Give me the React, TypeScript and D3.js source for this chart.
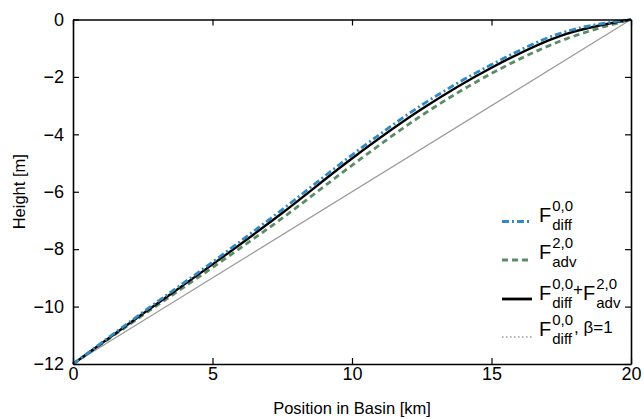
import React, { useEffect, useRef } from "react";
import * as d3 from "d3";

// positions along the basin [km]
const positions = [0, 2.5, 5, 7.5, 10, 12.5, 15, 17.5, 20];
// heights [m]
const diffHeights = [-12, -10.2, -8.45, -6.62, -4.72, -2.98, -1.57, -0.47, 0];
const advHeights = [-12, -10.3, -8.64, -6.92, -5.08, -3.34, -1.88, -0.74, 0];
const bothHeights = [-12, -10.25, -8.53, -6.74, -4.84, -3.12, -1.68, -0.56, 0];
const linearPos = [0, 20];
const linearHeights = [-12, 0];

const xTicks = [0, 5, 10, 15, 20];
const yTicks = [-12, -10, -8, -6, -4, -2, 0];

const FONT = "'Liberation Sans', Arial, Helvetica, sans-serif";

export default function App() {
  const svgRef = useRef<SVGSVGElement>(null);
  const width = 644;
  const height = 419;
  const left = 73, right = 631, top = 19.5, bottom = 364;

  useEffect(() => {
    const svg = d3.select(svgRef.current);
    svg.selectAll("*").remove();

    const x = d3.scaleLinear().domain([0, 20]).range([left, right]);
    const y = d3.scaleLinear().domain([-12, 0]).range([bottom, top]);

    const line = d3.line<[number, number]>()
      .x((d) => x(d[0]))
      .y((d) => y(d[1]))
      .curve(d3.curveMonotoneX);

    const zip = (xs: number[], ys: number[]) => xs.map((v, i) => [v, ys[i]] as [number, number]);

    // curves
    svg.append("path").datum(zip(linearPos, linearHeights))
      .attr("d", line).attr("fill", "none").attr("stroke", "#9a9a9a").attr("stroke-width", 1.2);
    svg.append("path").datum(zip(positions, advHeights))
      .attr("d", line).attr("fill", "none").attr("stroke", "#5b8c66")
      .attr("stroke-width", 2.8).attr("stroke-dasharray", "6,4");
    svg.append("path").datum(zip(positions, bothHeights))
      .attr("d", line).attr("fill", "none").attr("stroke", "#000").attr("stroke-width", 2.4);
    svg.append("path").datum(zip(positions, diffHeights))
      .attr("d", line).attr("fill", "none").attr("stroke", "#3389c2")
      .attr("stroke-width", 2.8).attr("stroke-dasharray", "7,3,2,3");

    // axes
    const styleAxis = (g: d3.Selection<SVGGElement, unknown, null, undefined>) => {
      g.selectAll("path").attr("stroke", "#000").attr("stroke-width", 1.6);
      g.selectAll("line").attr("stroke", "#000").attr("stroke-width", 1.2);
      g.selectAll("text").attr("font-family", FONT).attr("font-size", 18).attr("fill", "#000");
    };

    svg.append("g").attr("transform", `translate(0,${bottom})`)
      .call(d3.axisBottom(x).tickValues(xTicks).tickSize(-6).tickSizeOuter(0).tickPadding(3))
      .call(styleAxis);
    svg.append("g").attr("transform", `translate(${left},0)`)
      .call(d3.axisLeft(y).tickValues(yTicks).tickSize(-6).tickSizeOuter(0).tickPadding(9))
      .call(styleAxis);
    svg.append("g").attr("transform", `translate(0,${top})`)
      .call(d3.axisTop(x).tickValues(xTicks).tickSize(-6).tickSizeOuter(0).tickFormat(() => ""))
      .call(styleAxis);
    svg.append("g").attr("transform", `translate(${right},0)`)
      .call(d3.axisRight(y).tickValues(yTicks).tickSize(-6).tickSizeOuter(0).tickFormat(() => ""))
      .call(styleAxis);

    // axis titles
    svg.append("text").attr("x", (left + right) / 2).attr("y", 414)
      .attr("text-anchor", "middle").attr("font-family", FONT).attr("font-size", 16.5)
      .text("Position in Basin [km]");
    svg.append("text").attr("transform", `translate(25,${(top + bottom) / 2}) rotate(-90)`)
      .attr("text-anchor", "middle").attr("font-family", FONT).attr("font-size", 16.5)
      .text("Height [m]");

    // legend
    const legend = svg.append("g");
    const textX = 539;

    // writes F with sup/sub, returns x after the block
    const fTerm = (gx: number, by: number, sup: string, sub: string) => {
      const f = legend.append("text").attr("x", gx).attr("y", by)
        .attr("font-family", FONT).attr("font-size", 20).text("F");
      const fw = (f.node() as SVGTextElement).getComputedTextLength();
      const s1 = legend.append("text").attr("x", gx + fw + 1).attr("y", by - 11)
        .attr("font-family", FONT).attr("font-size", 15).text(sup);
      const s2 = legend.append("text").attr("x", gx + fw + 1).attr("y", by + 8)
        .attr("font-family", FONT).attr("font-size", 15).text(sub);
      const w = Math.max(
        (s1.node() as SVGTextElement).getComputedTextLength(),
        (s2.node() as SVGTextElement).getComputedTextLength()
      );
      return gx + fw + 1 + w;
    };

    const entries = [
      { y: 221.5, color: "#3389c2", dash: "7,3,2,3", w: 2.8 },
      { y: 260, color: "#5b8c66", dash: "6,4", w: 2.8 },
      { y: 299, color: "#000", dash: null, w: 2.8 },
      { y: 337, color: "#9a9a9a", dash: "1.5,2.5", w: 1.5 },
    ];
    entries.forEach((e) => {
      const l = legend.append("line").attr("x1", 502).attr("x2", 532)
        .attr("y1", e.y).attr("y2", e.y)
        .attr("stroke", e.color).attr("stroke-width", e.w);
      if (e.dash) l.attr("stroke-dasharray", e.dash);
    });

    fTerm(textX, 222, "0,0", "diff");
    fTerm(textX, 259, "2,0", "adv");
    const px = fTerm(textX, 300, "0,0", "diff");
    const plus = legend.append("text").attr("x", px).attr("y", 295)
      .attr("font-family", FONT).attr("font-size", 17).text("+");
    const pw = (plus.node() as SVGTextElement).getComputedTextLength();
    fTerm(px + pw, 300, "2,0", "adv");
    const ex = fTerm(textX, 336, "0,0", "diff");
    legend.append("text").attr("x", ex + 1).attr("y", 333)
      .attr("font-family", FONT).attr("font-size", 17).text(", \u03b2=1");
  }, []);

  return (
    <svg
      ref={svgRef}
      width={width}
      height={height}
      style={{ position: "absolute", left: 0, top: 0, background: "#fff" }}
    />
  );
}
